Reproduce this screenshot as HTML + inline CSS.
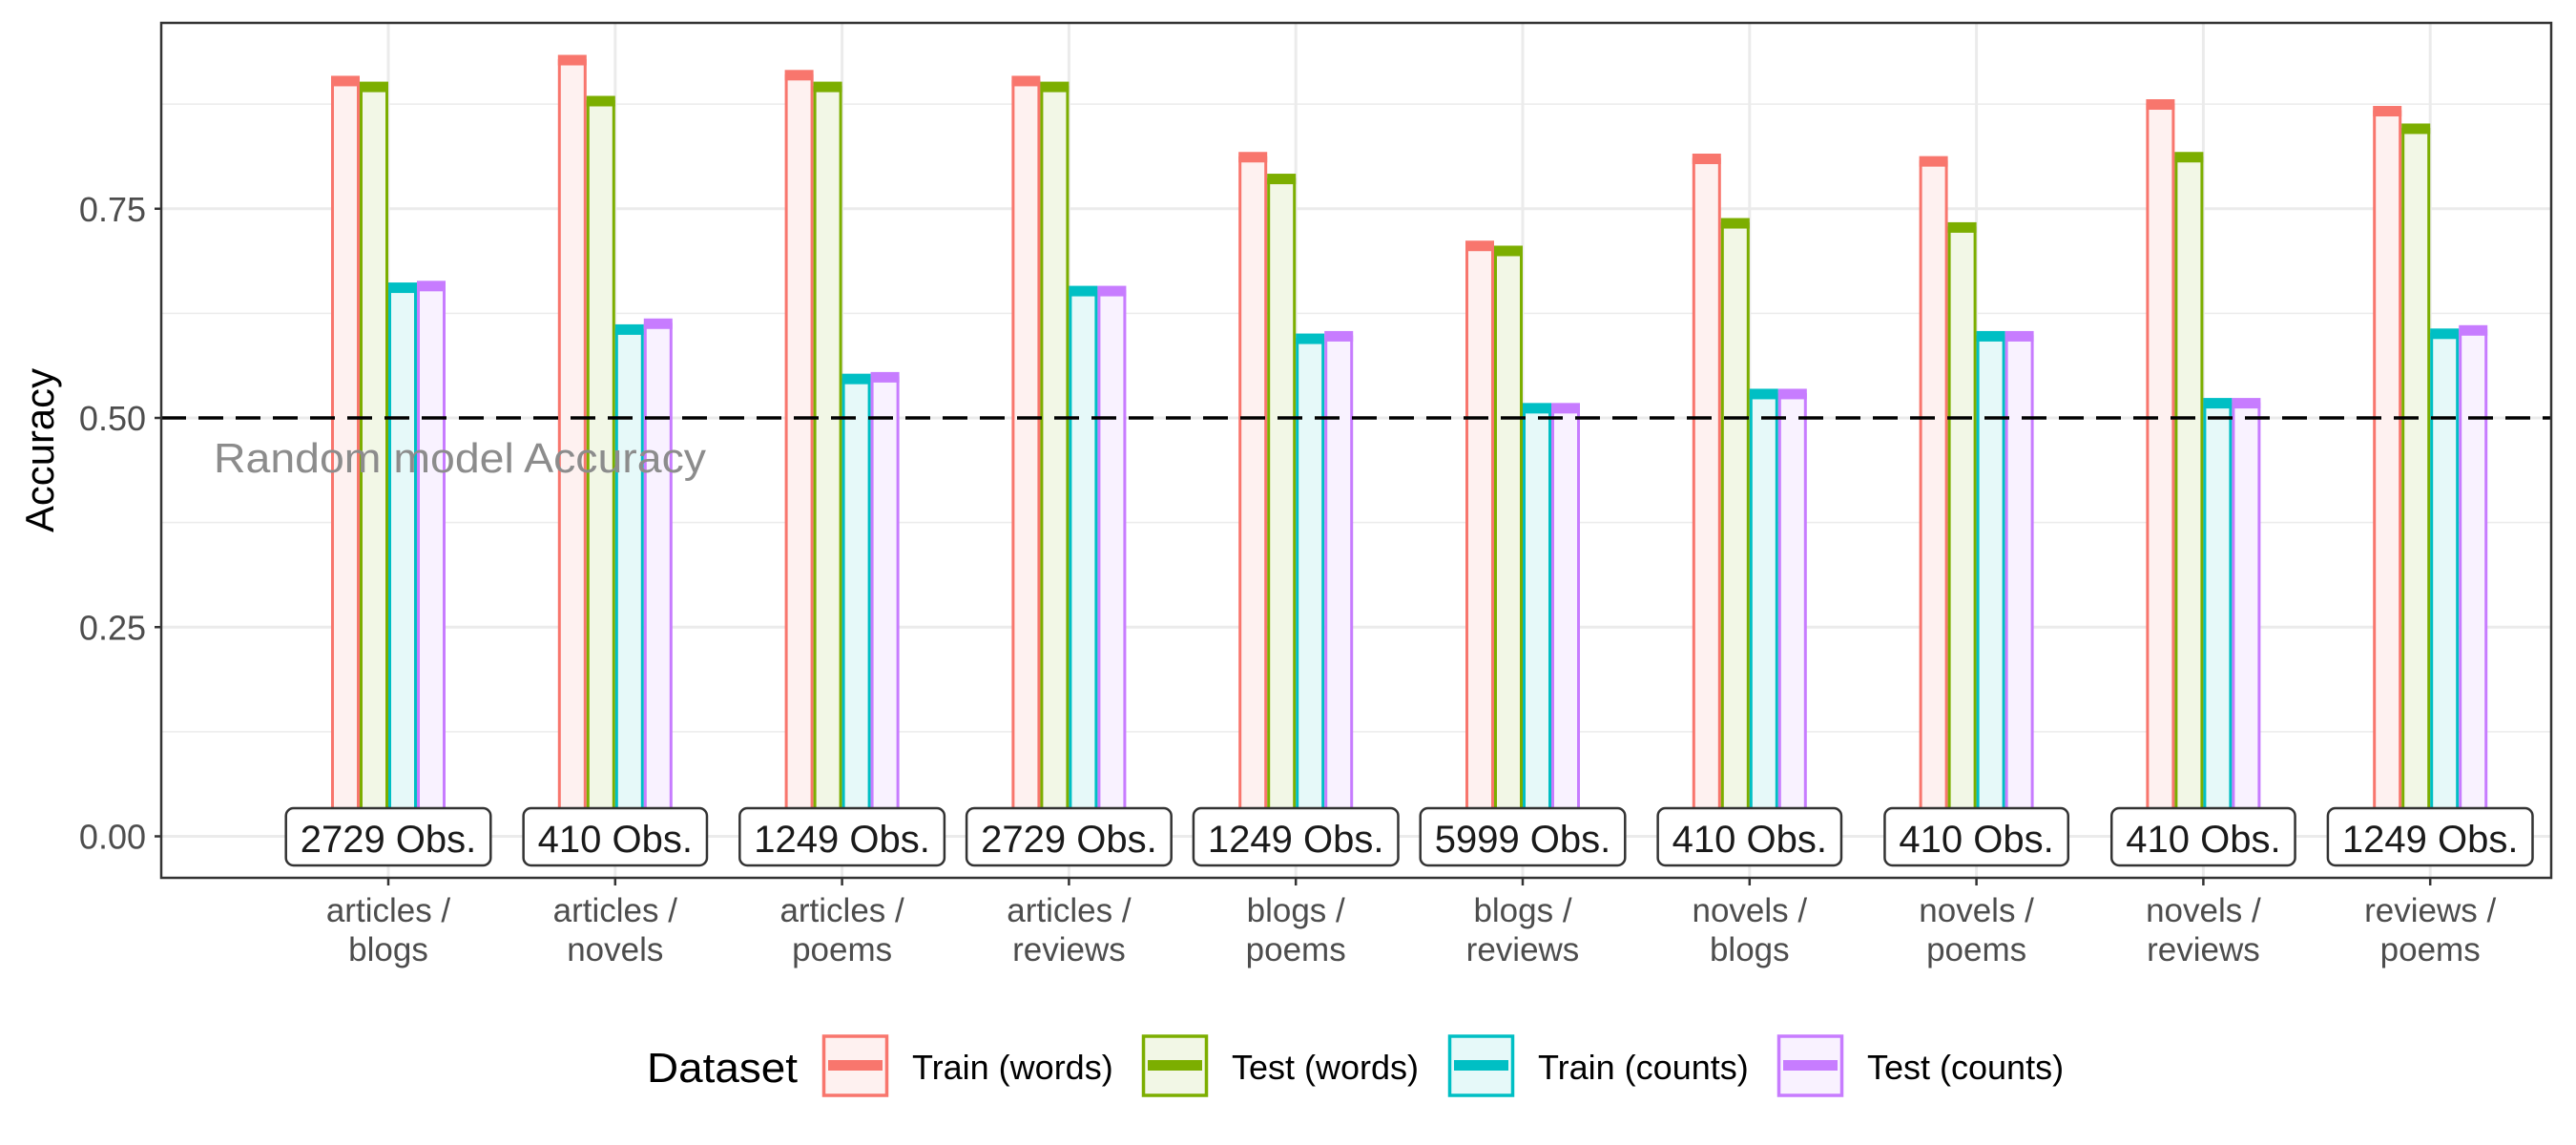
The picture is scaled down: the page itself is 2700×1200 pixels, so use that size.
<!DOCTYPE html>
<html><head><meta charset="utf-8"><style>
html,body{margin:0;padding:0;background:#fff;}
svg{display:block;font-family:"Liberation Sans",Arial,sans-serif;}
</style></head><body>
<svg id="chart" width="2700" height="1200" viewBox="0 0 2700 1200" xmlns="http://www.w3.org/2000/svg">
<rect width="2700" height="1200" fill="#fff"/>
<g id="grid"></g>
<g id="bars"></g>
<line id="baseline" x1="169" x2="2674" stroke="#000" stroke-width="3.5" stroke-dasharray="26,13"/>
<text x="224" y="495" font-size="44" fill="#8c8c8c" textLength="516" lengthAdjust="spacingAndGlyphs">Random model Accuracy</text>
<g id="obs"></g>
<rect x="169" y="24" width="2505" height="896" fill="none" stroke="#333" stroke-width="2.5"/>
<g id="axes"></g>
<text transform="translate(56,472) rotate(-90)" text-anchor="middle" font-size="42" fill="#000" textLength="172" lengthAdjust="spacingAndGlyphs">Accuracy</text>
<g id="legend"></g>
</svg>
<script>
const categories=[["articles /","blogs"],["articles /","novels"],["articles /","poems"],["articles /","reviews"],["blogs /","poems"],["blogs /","reviews"],["novels /","blogs"],["novels /","poems"],["novels /","reviews"],["reviews /","poems"]];
const obsCounts=["2729","410","1249","2729","1249","5999","410","410","410","1249"];
const trainWords=[0.902,0.927,0.909,0.902,0.811,0.705,0.809,0.806,0.874,0.866];
const testWords=[0.895,0.878,0.895,0.895,0.785,0.699,0.732,0.727,0.811,0.845];
const trainCounts=[0.655,0.605,0.546,0.651,0.594,0.511,0.528,0.597,0.517,0.600];
const testCounts=[0.657,0.612,0.548,0.651,0.597,0.511,0.528,0.597,0.517,0.604];
const seriesNames=["Train (words)","Test (words)","Train (counts)","Test (counts)"];
const yTicks=[0,0.25,0.5,0.75];
const yTickLabels=["0.00","0.25","0.50","0.75"];

const NS="http://www.w3.org/2000/svg";
const colors=["#F8766D","#7CAE00","#00BFC4","#C77CFF"];
const fills=["#FEF1F0","#F2F7E6","#E6F9F9","#F9F2FF"];
const series=[trainWords,testWords,trainCounts,testCounts];
const PL=169,PR=2674,PT=24,PB=920;
function y(v){return 876.5-v*877;}
function x(i){return 407+i*237.8;}
function mk(tag,attrs,parent){const e=document.createElementNS(NS,tag);for(const k in attrs)e.setAttribute(k,attrs[k]);parent.appendChild(e);return e;}

const grid=document.getElementById('grid');
[0.125,0.375,0.625,0.875].forEach(v=>{const l=mk('line',{x1:PL,x2:PR,y1:y(v),y2:y(v),stroke:'#ebebeb','stroke-width':1.5},grid);

});
yTicks.forEach(v=>{const l=mk('line',{x1:PL,x2:PR,y1:y(v),y2:y(v),stroke:'#ebebeb','stroke-width':3},grid);

});
categories.forEach((c,i)=>{const l=mk('line',{x1:x(i),x2:x(i),y1:PT,y2:PB,stroke:'#ebebeb','stroke-width':3},grid);

});

document.getElementById('baseline').setAttribute('y1',y(0.5));
document.getElementById('baseline').setAttribute('y2',y(0.5));

const bars=document.getElementById('bars');
const bw=30;
categories.forEach((c,i)=>{
  series.forEach((s,j)=>{
    const bx=x(i)-2*bw+j*bw;
    const r=mk('rect',{x:bx+1.5,y:y(s[i]),width:bw-3,height:y(0)-y(s[i]),fill:fills[j],stroke:colors[j],'stroke-width':3},bars);
    
    
    const cap=mk('rect',{x:bx,y:y(s[i])-6,width:bw,height:11,fill:colors[j]},bars);
    
    
  });
});

const obs=document.getElementById('obs');
obsCounts.forEach((n,i)=>{
  const g=mk('g',{},obs);
  
  
  const box=mk('rect',{x:x(i)-100,y:847,width:200,height:60,rx:8,fill:'#fff',stroke:'#333','stroke-width':2.5},g);
  const t=mk('text',{x:x(i),y:893,'text-anchor':'middle','font-size':40,fill:'#1a1a1a'},g);
  t.textContent=n+' Obs.';
  const w=t.getComputedTextLength()+30;
  box.setAttribute('x',x(i)-w/2);
  box.setAttribute('width',w);
});

const axes=document.getElementById('axes');
yTicks.forEach((v,k)=>{
  const tk=mk('line',{x1:162,x2:169,y1:y(v),y2:y(v),stroke:'#333','stroke-width':2.5},axes);
  
  
  const t=mk('text',{x:153,y:y(v)+13,'text-anchor':'end','font-size':36,fill:'#4d4d4d'},axes);
  
  
  t.textContent=yTickLabels[k];
});
categories.forEach((c,i)=>{
  const tk=mk('line',{x1:x(i),x2:x(i),y1:PB,y2:PB+8,stroke:'#333','stroke-width':2.5},axes);
  
  
  c.forEach((line,k)=>{
    const t=mk('text',{x:x(i),y:966+k*41,'text-anchor':'middle','font-size':35,fill:'#4d4d4d'},axes);
    
    
    t.textContent=line;
  });
});

const legend=document.getElementById('legend');
const lt=mk('text',{x:678,y:1134,'font-size':44,fill:'#000',textLength:158,lengthAdjust:'spacingAndGlyphs'},legend);


lt.textContent='Dataset';
const keyX=[862,1197,1518,1863];
seriesNames.forEach((n,j)=>{
  const g=mk('g',{},legend);
  
  
  mk('rect',{x:keyX[j]+1.5,y:1086,width:66,height:62,fill:fills[j],stroke:colors[j],'stroke-width':3.5},g);
  mk('rect',{x:keyX[j]+6,y:1111,width:57,height:11,fill:colors[j]},g);
  const t=mk('text',{x:keyX[j]+94,y:1131,'font-size':36,fill:'#000'},g);
  t.textContent=n;
});
</script>
</body></html>
